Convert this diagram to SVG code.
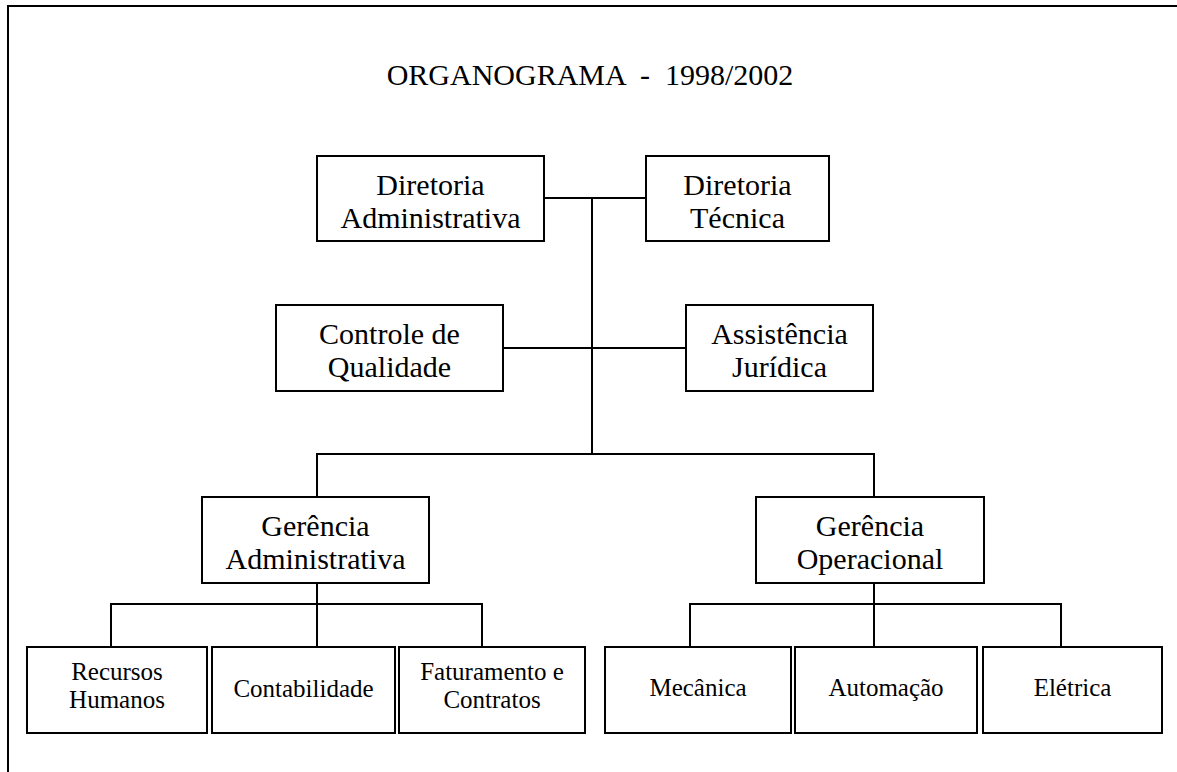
<svg xmlns="http://www.w3.org/2000/svg" width="1177" height="772" viewBox="0 0 1177 772">
<style>
.box{fill:#fff;stroke:#000;stroke-width:2}
.ln{fill:none;stroke:#000;stroke-width:2}
.t{font-family:"Liberation Serif","Times New Roman",serif;font-size:30px;fill:#000;text-anchor:middle}
.s{font-family:"Liberation Serif","Times New Roman",serif;font-size:25px;fill:#000;text-anchor:middle}
</style>
<rect width="1177" height="772" fill="#fff"/>
<path class="ln" d="M8,772 V6 H1177"/>
<text class="t" x="590" y="85" xml:space="preserve">ORGANOGRAMA  -  1998/2002</text>
<g id="connectors">
<path class="ln" d="M544,198 H646"/>
<path class="ln" d="M592,198 V454"/>
<path class="ln" d="M503,348 H686"/>
<path class="ln" d="M317,497 V454 H874 V497"/>
<path class="ln" d="M317,583 V647"/>
<path class="ln" d="M111,647 V604 H482 V647"/>
<path class="ln" d="M874,583 V647"/>
<path class="ln" d="M690,647 V604 H1062"/>
<path class="ln" d="M1061,604 V647"/>
</g>
<g id="dir-adm"><rect class="box" x="317" y="156" width="227" height="85"/><text class="t" x="430.5" y="195">Diretoria</text><text class="t" x="430.5" y="228">Administrativa</text></g>
<g id="dir-tec"><rect class="box" x="646" y="156" width="183" height="85"/><text class="t" x="737.5" y="195">Diretoria</text><text class="t" x="737.5" y="228">Técnica</text></g>
<g id="controle"><rect class="box" x="276" y="305" width="227" height="86"/><text class="t" x="389.5" y="344">Controle de</text><text class="t" x="389.5" y="377">Qualidade</text></g>
<g id="assist"><rect class="box" x="686" y="305" width="187" height="86"/><text class="t" x="779.5" y="344">Assistência</text><text class="t" x="779.5" y="377">Jurídica</text></g>
<g id="ger-adm"><rect class="box" x="202" y="497" width="227" height="86"/><text class="t" x="315.5" y="536">Gerência</text><text class="t" x="315.5" y="569">Administrativa</text></g>
<g id="ger-op"><rect class="box" x="756" y="497" width="228" height="86"/><text class="t" x="870" y="536">Gerência</text><text class="t" x="870" y="569">Operacional</text></g>
<g id="rh"><rect class="box" x="27" y="647" width="180" height="86"/><text class="s" x="117" y="680">Recursos</text><text class="s" x="117" y="708">Humanos</text></g>
<g id="contab"><rect class="box" x="212" y="647" width="183" height="86"/><text class="s" x="303.5" y="697">Contabilidade</text></g>
<g id="fat"><rect class="box" x="399" y="647" width="186" height="86"/><text class="s" x="492" y="680">Faturamento e</text><text class="s" x="492" y="708">Contratos</text></g>
<g id="mec"><rect class="box" x="605" y="647" width="186" height="86"/><text class="s" x="698" y="696">Mecânica</text></g>
<g id="auto"><rect class="box" x="795" y="647" width="182" height="86"/><text class="s" x="886" y="696">Automação</text></g>
<g id="elet"><rect class="box" x="983" y="647" width="179" height="86"/><text class="s" x="1072.5" y="696">Elétrica</text></g>
</svg>
